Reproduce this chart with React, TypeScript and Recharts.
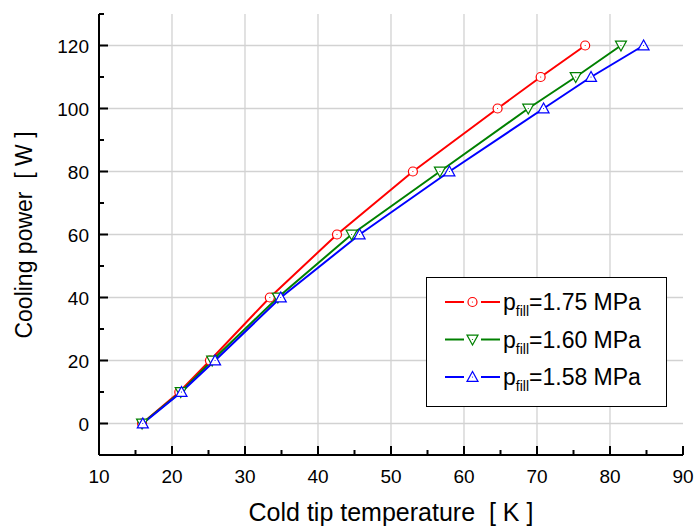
import React from 'react';
import { LineChart, Line, XAxis, YAxis, ReferenceLine, Legend } from 'recharts';

// cooling power steps [W]
const power = [0, 10, 20, 40, 60, 80, 100, 110, 120];
// cold tip temperature [K] per fill pressure
const temp175 = [15.9, 21.0, 25.2, 33.4, 42.6, 53.0, 64.6, 70.5, 76.6];
const temp160 = [15.9, 21.2, 25.5, 34.5, 44.6, 56.7, 68.8, 75.3, 81.5];
const temp158 = [16.0, 21.3, 25.9, 34.9, 45.7, 58.0, 70.9, 77.4, 84.6];

const seriesNames = ['1.75 MPa', '1.60 MPa', '1.58 MPa'];
const seriesColors = ['#ff0000', '#008000', '#0000ff'];
const seriesMarkers = ['circle', 'down', 'up'];

const xTicks = [10, 15, 20, 25, 30, 35, 40, 45, 50, 55, 60, 65, 70, 75, 80, 85, 90];
const yTicks = [-10, 0, 10, 20, 30, 40, 50, 60, 70, 80, 90, 100, 110, 120, 130];
const xGrid = [20, 30, 40, 50, 60, 70, 80];
const yGrid = [0, 20, 40, 60, 80, 100, 120];

const toRows = (temps: number[]) => temps.map((t, i) => ({ t, p: power[i] }));
const seriesTemps = [temp175, temp160, temp158];

const FONT = '"Liberation Sans", Arial, Helvetica, sans-serif';

const Marker = ({ kind, cx, cy, color }: { kind: string; cx: number; cy: number; color: string }) => {
  if (kind === 'circle') {
    return (
      <g>
        <circle cx={cx} cy={cy} r={4.5} fill="#fff" stroke={color} strokeWidth={1.2} />
        <circle cx={cx} cy={cy} r={0.6} fill={color} />
      </g>
    );
  }
  const s = 5.5;
  const pts =
    kind === 'up'
      ? `${cx},${cy - s} ${cx - s},${cy + s * 0.8} ${cx + s},${cy + s * 0.8}`
      : `${cx},${cy + s} ${cx - s},${cy - s * 0.8} ${cx + s},${cy - s * 0.8}`;
  return (
    <g>
      <polygon points={pts} fill="#fff" stroke={color} strokeWidth={1.2} />
      <circle cx={cx} cy={cy} r={0.6} fill={color} />
    </g>
  );
};

const BottomTick = (props: any) => {
  const { x, y, payload } = props;
  const major = payload.value % 10 === 0;
  return (
    <g>
      <line x1={x} x2={x} y1={y} y2={y - (major ? 9 : 5)} stroke="#000" strokeWidth={2} />
      {major && (
        <text x={x} y={y + 28} textAnchor="middle" fontSize={19} fontFamily={FONT} fill="#000">
          {payload.value}
        </text>
      )}
    </g>
  );
};

const TopTick = (props: any) => {
  const { x, y, payload } = props;
  const major = payload.value % 10 === 0;
  return <line x1={x} x2={x} y1={y} y2={y + (major ? 9 : 5)} stroke="#000" strokeWidth={2} />;
};

const LeftTick = (props: any) => {
  const { x, y, payload } = props;
  const major = payload.value % 20 === 0;
  return (
    <g>
      <line x1={x} x2={x + (major ? 9 : 5)} y1={y} y2={y} stroke="#000" strokeWidth={2} />
      {major && (
        <text x={x - 10} y={y + 7} textAnchor="end" fontSize={19} fontFamily={FONT} fill="#000">
          {payload.value}
        </text>
      )}
    </g>
  );
};

const RightTick = (props: any) => {
  const { x, y, payload } = props;
  const major = payload.value % 20 === 0;
  return <line x1={x} x2={x - (major ? 9 : 5)} y1={y} y2={y} stroke="#000" strokeWidth={2} />;
};

const LegendBox = () => (
  <svg width={241} height={130} style={{ display: 'block' }}>
    <rect x={0.5} y={0.5} width={240} height={129} fill="#fff" stroke="#000" strokeWidth={1} />
    {seriesNames.map((name, i) => {
      const cy = 25 + i * 37.5;
      const c = seriesColors[i];
      return (
        <g key={name}>
          <line x1={19} x2={38} y1={cy} y2={cy} stroke={c} strokeWidth={2} />
          <line x1={55} x2={74} y1={cy} y2={cy} stroke={c} strokeWidth={2} />
          <Marker kind={seriesMarkers[i]} cx={46.5} cy={cy} color={c} />
          <text x={77} y={cy + 8} fontSize={23} fontFamily={FONT} fill="#000">
            <tspan>p</tspan>
            <tspan fontSize={14} dy={6}>fill</tspan>
            <tspan dy={-6}>={name}</tspan>
          </text>
        </g>
      );
    })}
  </svg>
);

export default function App() {
  return (
    <div style={{ position: 'absolute', left: 0, top: 0, width: 694, height: 527, background: '#fff', fontFamily: FONT }}>
      <LineChart width={694} height={527} margin={{ top: 14, right: 11, bottom: 0, left: 0 }}>
        <XAxis
          xAxisId="b"
          type="number"
          dataKey="t"
          domain={[10, 90]}
          ticks={xTicks}
          interval={0}
          height={72}
          tickSize={0}
          tickMargin={0}
          tick={<BottomTick />}
          axisLine={{ stroke: '#000', strokeWidth: 2 }}
          allowDataOverflow
        />
        <XAxis
          xAxisId="t"
          orientation="top"
          type="number"
          dataKey="t"
          domain={[10, 90]}
          ticks={xTicks}
          interval={0}
          height={0}
          tickSize={0}
          tickMargin={0}
          tick={<TopTick />}
          axisLine={{ stroke: '#000', strokeWidth: 2 }}
          allowDataOverflow
        />
        <YAxis
          yAxisId="l"
          type="number"
          domain={[-10, 130]}
          ticks={yTicks}
          interval={0}
          width={99}
          tickSize={0}
          tickMargin={0}
          tick={<LeftTick />}
          axisLine={{ stroke: '#000', strokeWidth: 2 }}
          allowDataOverflow
        />
        <YAxis
          yAxisId="r"
          orientation="right"
          type="number"
          domain={[-10, 130]}
          ticks={yTicks}
          interval={0}
          width={0}
          tickSize={0}
          tickMargin={0}
          tick={<RightTick />}
          axisLine={{ stroke: '#000', strokeWidth: 2 }}
          allowDataOverflow
        />
        {xGrid.map((v) => (
          <ReferenceLine key={`gx${v}`} x={v} xAxisId="b" yAxisId="l" stroke="#d2d2d2" strokeWidth={1.3} />
        ))}
        {yGrid.map((v) => (
          <ReferenceLine key={`gy${v}`} y={v} xAxisId="b" yAxisId="l" stroke="#d2d2d2" strokeWidth={1.3} />
        ))}
        {seriesTemps.map((temps, i) => (
          <Line
            key={seriesNames[i]}
            xAxisId="b"
            yAxisId="l"
            data={toRows(temps)}
            dataKey="p"
            name={seriesNames[i]}
            type="linear"
            stroke={seriesColors[i]}
            strokeWidth={2}
            isAnimationActive={false}
            dot={(p: any) => (
              <Marker key={`${i}-${p.index}`} kind={seriesMarkers[i]} cx={p.cx} cy={p.cy} color={seriesColors[i]} />
            )}
            activeDot={false}
          />
        ))}
        <Legend
          layout="vertical"
          verticalAlign="middle"
          align="center"
          content={() => <LegendBox />}
          wrapperStyle={{ position: 'absolute', left: 426, top: 277, width: 241, height: 130 }}
        />
      </LineChart>
      <div
        style={{
          position: 'absolute',
          left: 0,
          top: 498,
          width: 782,
          textAlign: 'center',
          fontSize: 25,
          whiteSpace: 'pre',
          lineHeight: '28px',
          color: '#000',
        }}
      >
        {'Cold tip temperature  [ K ]'}
      </div>
      <div
        style={{
          position: 'absolute',
          left: 24,
          top: 235,
          transform: 'translate(-50%, -50%) rotate(-90deg)',
          fontSize: 23,
          whiteSpace: 'pre',
          lineHeight: '28px',
          color: '#000',
        }}
      >
        {'Cooling power  [ W ]'}
      </div>
    </div>
  );
}
